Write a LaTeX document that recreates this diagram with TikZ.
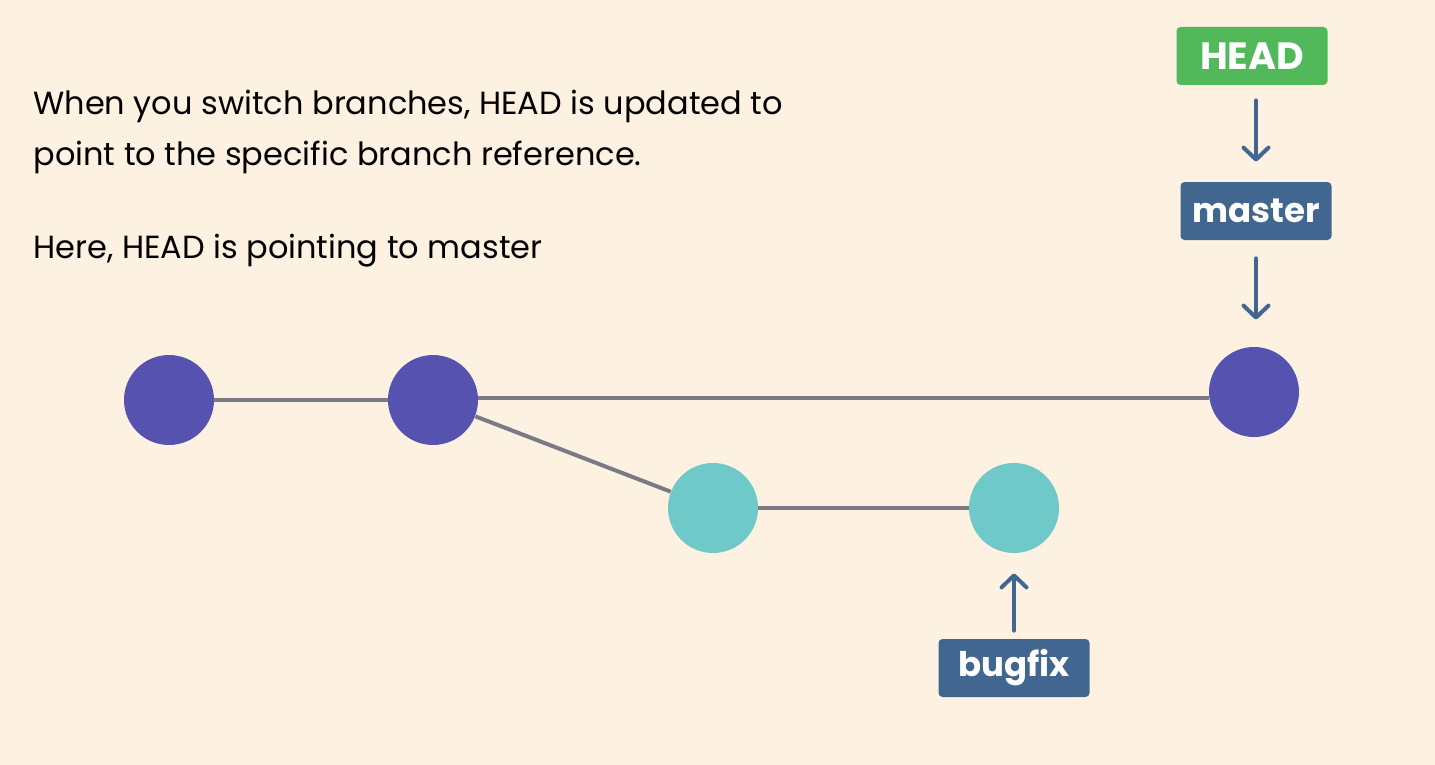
\documentclass[tikz,border=0pt]{standalone}
\usepackage{fontspec}
\setmainfont{Poppins}
\usepackage{xcolor}
\usepackage{tikz}
\usetikzlibrary{arrows.meta,positioning}

\definecolor{bgcream}{HTML}{FDF2E2}
\definecolor{mainpurple}{HTML}{5552B0}
\definecolor{fixteal}{HTML}{6FC9C9}
\definecolor{refblue}{HTML}{416790}
\definecolor{headgreen}{HTML}{52B95A}
\definecolor{edgegray}{HTML}{7A7A85}

\tikzset{
  commit/.style={circle,minimum size=45pt,inner sep=0pt},
  ref/.style={rounded corners=2pt,minimum width=75.5pt,minimum height=29pt,inner sep=0pt,
    text=white,font=\fontsize{17}{17}\selectfont\bfseries},
  caption/.style={anchor=base west,inner sep=0pt,font=\fontsize{16}{25}\selectfont},
  link/.style={edgegray,line width=2pt},
  pointer/.style={refblue,line width=2pt,line cap=round,-{Straight Barb[length=6pt,width=12.5pt,round]}},
}

\begin{document}
\begin{tikzpicture}[x=0.5pt,y=-0.5pt]
  \fill[bgcream] (0,0) rectangle (1435,765);
  \useasboundingbox (0,0) rectangle (1435,765);
  % caption
  \node[caption] (line1) at (33,115) {When you switch branches, HEAD is updated to};
  \node[caption] (line2) at (33,165) {point to the specific branch reference.};
  \node[caption] (line3) at (33,258) {Here, HEAD is pointing to master};
  % commits
  \node[commit,fill=mainpurple] (c1) at (169,400) {};
  \node[commit,fill=mainpurple] (c2) at (433,400) {};
  \node[commit,fill=mainpurple] (c3) at (1254,392) {};
  \node[commit,fill=fixteal] (c4) at (713,508) {};
  \node[commit,fill=fixteal] (c5) at (1014,508) {};
  \draw[link] (c1) -- (c2);
  \draw[link] ([yshift=1pt]c2.east) -- ([yshift=1pt]c2.east -| c3.west);
  \draw[link] (c2) -- (c4);
  \draw[link] (c4) -- (c5);
  % refs
  \node[ref,fill=headgreen,font=\fontsize{19}{19}\selectfont\bfseries] (head) at (1252,56) {HEAD};
  \node[ref,fill=refblue] (master) at (1256,211) {master};
  \node[ref,fill=refblue] (bugfix) at (1014,668) {bugfix};
  \draw[pointer,shorten <=7.5pt,shorten >=10pt] (master.north |- head.south) -- (master.north);
  \draw[pointer,shorten <=9pt,shorten >=13.5pt] (master.south) -- (master.south |- c3.north);
  \draw[pointer,shorten <=4pt,shorten >=10pt] (bugfix.north) -- (c5.south);
\end{tikzpicture}
\end{document}
